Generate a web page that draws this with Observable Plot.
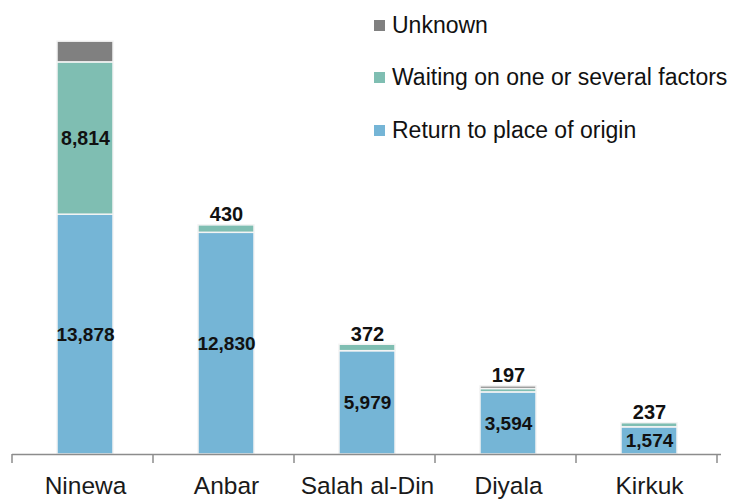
<!DOCTYPE html>
<html>
<head>
<meta charset="utf-8">
<script src="https://cdn.jsdelivr.net/npm/d3@7"></script>
<script src="https://cdn.jsdelivr.net/npm/@observablehq/plot@0.6"></script>
<style>
  html, body { margin: 0; padding: 0; background: #fff; }
  #wrap { position: relative; width: 729px; height: 499px; font-family: "Liberation Sans", Arial, sans-serif; }
  #legend { position: absolute; left: 374px; top: 10px; }
  .item { display: flex; align-items: center; height: 30px; margin-bottom: 22.5px; font-size: 23px; color: #111; }
  .sw { width: 11px; height: 11px; margin-right: 7px; }
</style>
</head>
<body>
<div id="wrap"><div id="legend"></div></div>
<script>
const categories = ["Ninewa", "Anbar", "Salah al-Din", "Diyala", "Kirkuk"];
const returnVals = [13878, 12830, 5979, 3594, 1574];
const waitingVals = [8814, 430, 372, 197, 237];
const unknownVals = [1200, 0, 0, 150, 0];
const series = ["Return to place of origin", "Waiting on one or several factors", "Unknown"];
const colors = ["#75b5d6", "#7fbeb2", "#808080"];
const legendOrder = ["Unknown", "Waiting on one or several factors", "Return to place of origin"];

const rows = [];
categories.forEach((c, i) => {
  rows.push({cat: c, series: series[0], value: returnVals[i]});
  rows.push({cat: c, series: series[1], value: waitingVals[i]});
  rows.push({cat: c, series: series[2], value: unknownVals[i]});
});

const returnLabels = categories.map((c, i) => ({cat: c, y: returnVals[i] / 2, text: d3.format(",")(returnVals[i])}));
const insideWaiting = categories.map((c, i) => ({cat: c, y: returnVals[i] + waitingVals[i] / 2, text: d3.format(",")(waitingVals[i])})).filter((d, i) => i === 0);
const aboveWaiting = categories.map((c, i) => ({cat: c, y: returnVals[i] + waitingVals[i] + unknownVals[i], text: d3.format(",")(waitingVals[i])})).filter((d, i) => i > 0);

const font = "Liberation Sans, Arial, sans-serif";

const plot = Plot.plot({
  width: 729,
  height: 499,
  marginTop: 22,
  marginBottom: 45,
  marginLeft: 12,
  marginRight: 8,
  style: {fontFamily: font, background: "white", overflow: "visible"},
  x: {domain: categories, paddingInner: 0.605, paddingOuter: 0.3025, label: null},
  y: {domain: [0, 25000], axis: null},
  color: {domain: series, range: colors},
  marks: [
    Plot.barY(rows, Plot.stackY({x: "cat", y: "value", fill: "series", stroke: "#f4f4f4", strokeWidth: 1.5})),
    Plot.ruleY([0], {stroke: "#8c8c8c", strokeWidth: 1.5}),
    Plot.axisX({tickSize: 0, tickPadding: 22, fontSize: 24.5, fill: "#1a1a1a", label: null}),
    Plot.text(returnLabels, {x: "cat", y: "y", text: "text", fontSize: 19, fontWeight: "bold", fill: "#111"}),
    Plot.text(insideWaiting, {x: "cat", y: "y", text: "text", fontSize: 19.5, fontWeight: "bold", fill: "#111"}),
    Plot.text(aboveWaiting, {x: "cat", y: "y", text: "text", fontSize: 20, fontWeight: "bold", fill: "#111", lineAnchor: "bottom", dy: -4})
  ]
});

// boundary ticks below the axis, from the plot's own x scale
const xs = plot.scale("x");
const ys = plot.scale("y");
const y0 = ys.apply(0);
const svg = d3.select(plot);
const bounds = d3.range(categories.length + 1).map(i => xs.range[0] + i * xs.step);
svg.append("g").selectAll("line").data(bounds).join("line")
  .attr("x1", d => d).attr("x2", d => d)
  .attr("y1", y0).attr("y2", y0 + 9)
  .attr("stroke", "#8c8c8c").attr("stroke-width", 1.5);

document.getElementById("wrap").prepend(plot);
plot.style.position = "absolute";
plot.style.left = "0px";
plot.style.top = "0px";

const legend = d3.select("#legend");
legendOrder.forEach(s => {
  const it = legend.append("div").attr("class", "item");
  it.append("div").attr("class", "sw").style("background", colors[series.indexOf(s)]);
  it.append("span").text(s);
});
</script>
</body>
</html>
